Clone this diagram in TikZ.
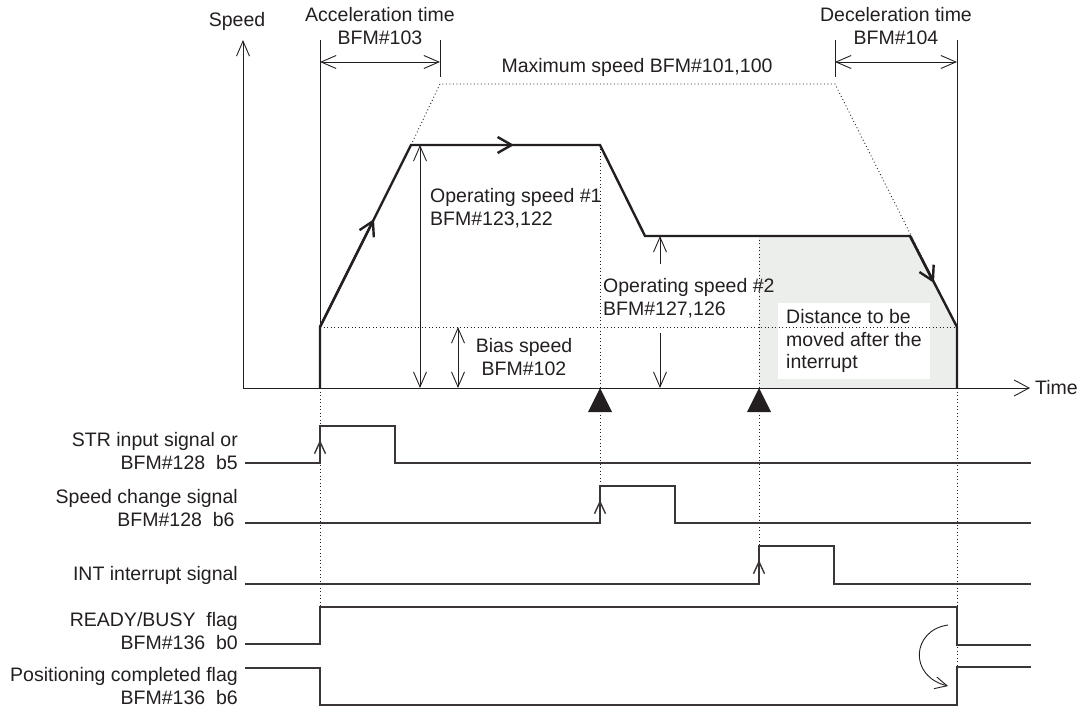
\documentclass[tikz,border=0pt]{standalone}
\usepackage{fontspec}
\setmainfont{Liberation Sans}
\usetikzlibrary{arrows.meta}
\definecolor{ink}{HTML}{231F20}
\definecolor{sig}{HTML}{3A3536}
\definecolor{areagray}{HTML}{ECEEEC}
\begin{document}
\begin{tikzpicture}[x=1pt,y=-1pt,
  every node/.style={text=ink,font=\fontsize{19.5}{22.5}\selectfont,inner sep=0pt},
  thinline/.style={draw=ink,line width=0.9pt},
  dotline/.style={draw=ink,line width=0.9pt,dash pattern=on 0.9pt off 2.6pt},
  profile/.style={draw=ink,line width=2.4pt,line join=miter},
  sigline/.style={draw=sig,line width=1.4pt},
  barb/.style={-{Straight Barb[length=15pt,width=13pt]}},
  dbarb/.style={{Straight Barb[length=15pt,width=13pt]}-{Straight Barb[length=15pt,width=13pt]}},
  pbarb/.style={-{Straight Barb[length=14pt,width=16pt]}},
  ebarb/.style={-{Straight Barb[length=12pt,width=11pt]}}]
\useasboundingbox (0,0) rectangle (1086,709);

% key coordinates
\coordinate (O) at (243,388);
\coordinate (Ytop) at (243,40);
\coordinate (Xend) at (1030,388);
\coordinate (S0) at (320,388);
\coordinate (S1) at (320,327);
\coordinate (A1) at (411,145);
\coordinate (A2) at (600,145);
\coordinate (B1) at (645,236);
\coordinate (B2) at (910,236);
\coordinate (E1) at (957,327);
\coordinate (E0) at (957,388);
\coordinate (I0) at (759,236);
\coordinate (I1) at (759,388);

% shaded distance region
\fill[areagray] (I0) -- (B2) -- (E1) -- (E0) -- (I1) -- cycle;
\node[fill=white,minimum width=152pt,minimum height=76pt] (boxbg) at (854,341) {};
\node[anchor=west,align=left] (dist) at (786,341) {Distance to be\\moved after the\\interrupt};

% axes
\draw[thinline,barb] (O) -- (Ytop);
\draw[thinline,-{Straight Barb[length=15pt,width=16pt]}] (O) -- (Xend);
\node[anchor=west] (timelbl) at (1035,388) {Time};
\node (speedlbl) at (237,21) {Speed};

% reference lines
\coordinate (R1t) at (320,40);
\coordinate (R2t) at (957,40);
\coordinate (T1t) at (440,40);
\coordinate (T1b) at (440,77);
\coordinate (T2t) at (835,40);
\coordinate (T2b) at (835,77);
\draw[thinline] (R1t) -- (S1);
\draw[thinline] (R2t) -- (E1);
\draw[thinline] (T1t) -- (T1b);
\draw[thinline] (T2t) -- (T2b);
\coordinate (D1a) at (320,62);
\coordinate (D1b) at (440,62);
\coordinate (D2a) at (835,62);
\coordinate (D2b) at (957,62);
\draw[thinline,dbarb] (D1a) -- (D1b);
\draw[thinline,dbarb] (D2a) -- (D2b);
\node[align=center] (acc) at (380,26) {Acceleration time\\BFM\#103};
\node[align=center] (dec) at (896,26) {Deceleration time\\BFM\#104};

% maximum speed (dotted)
\coordinate (M1) at (440,84);
\coordinate (M2) at (835,84);
\draw[dotline] (A1) -- (M1) -- (M2) -- (E1);
\node (maxlbl) at (637,67) {Maximum speed BFM\#101,100};

% bias dotted
\draw[dotline] (S1) -- (E1);

% vertical dotted guides
\coordinate (G1) at (320,607);
\coordinate (G2) at (600,486);
\coordinate (G3) at (759,546);
\coordinate (G4) at (957,667);
\draw[dotline] (S0) -- (G1);
\draw[dotline] (A2) -- (G2);
\draw[dotline] (I0) -- (G3);
\draw[dotline] (E0) -- (G4);

% speed profile
\draw[profile] (S0) -- (S1) -- (A1) -- (A2) -- (B1) -- (B2) -- (E1) -- (E0);
\coordinate (P1) at (374,219);
\coordinate (P2) at (514,145);
\coordinate (P3) at (934,283);
\draw[draw=ink,line width=2.4pt,pbarb] (S1) -- (P1);
\draw[draw=ink,line width=2.4pt,pbarb] (A1) -- (P2);
\draw[draw=ink,line width=2.4pt,pbarb] (B2) -- (P3);

% operating speed arrows
\coordinate (OS1t) at (420,145);
\coordinate (OS1b) at (420,388);
\draw[thinline,dbarb] (OS1b) -- (OS1t);
\node[anchor=west,align=left] (op1) at (430,208) {Operating speed \#1\\BFM\#123,122};
\coordinate (BSt) at (458,327);
\coordinate (BSb) at (458,388);
\draw[thinline,dbarb] (BSb) -- (BSt);
\node[align=center] (bias) at (524,357) {Bias speed\\BFM\#102};
\coordinate (OS2a) at (660,264);
\coordinate (OS2t) at (660,236);
\coordinate (OS2c) at (660,333);
\coordinate (OS2b) at (660,388);
\draw[thinline,barb] (OS2a) -- (OS2t);
\draw[thinline,barb] (OS2c) -- (OS2b);
\node[anchor=west,align=left] (op2) at (603,298) {Operating speed \#2\\BFM\#127,126};

% triangles
\fill[ink] (600,388) -- (612,412) -- (588,412) -- cycle;
\fill[ink] (759,388) -- (771,412) -- (747,412) -- cycle;

% signals
\draw[sigline] (245,463) -- (320,463) -- (320,426) -- (395,426) -- (395,463) -- (1031,463);
\draw[sigline,ebarb] (320,463) -- (320,440);
\draw[sigline] (245,523) -- (600,523) -- (600,486) -- (675,486) -- (675,523) -- (1031,523);
\draw[sigline,ebarb] (600,523) -- (600,500);
\draw[sigline] (245,584) -- (759,584) -- (759,546) -- (834,546) -- (834,584) -- (1031,584);
\draw[sigline,ebarb] (759,584) -- (759,560);
\draw[sigline] (245,644) -- (320,644) -- (320,607) -- (957,607) -- (957,645) -- (1031,645);
\draw[sigline] (245,668) -- (320,668) -- (320,705) -- (957,705) -- (957,667) -- (1031,667);

% curved arrow
\coordinate (C1) at (948,625);
\coordinate (C2) at (948,686);
\draw[draw=ink,line width=0.9pt,-{Straight Barb[length=12pt,width=12pt]}] (C1) .. controls (912,630) and (908,676) .. (C2);

% signal labels
\node[anchor=east,align=right] (str) at (238,451) {STR input signal or\\BFM\#128\ \ b5};
\node[anchor=east,align=right] (spc) at (238,508) {Speed change signal\\BFM\#128\ \ b6\,};
\node[anchor=east] (intl) at (238,575) {INT interrupt signal};
\node[anchor=east,align=right] (rdy) at (238,631) {READY/BUSY\ \ flag\\BFM\#136\ \ b0};
\node[anchor=east,align=right] (pos) at (238,686) {Positioning completed flag\\BFM\#136\ \ b6};
\end{tikzpicture}
\end{document}
